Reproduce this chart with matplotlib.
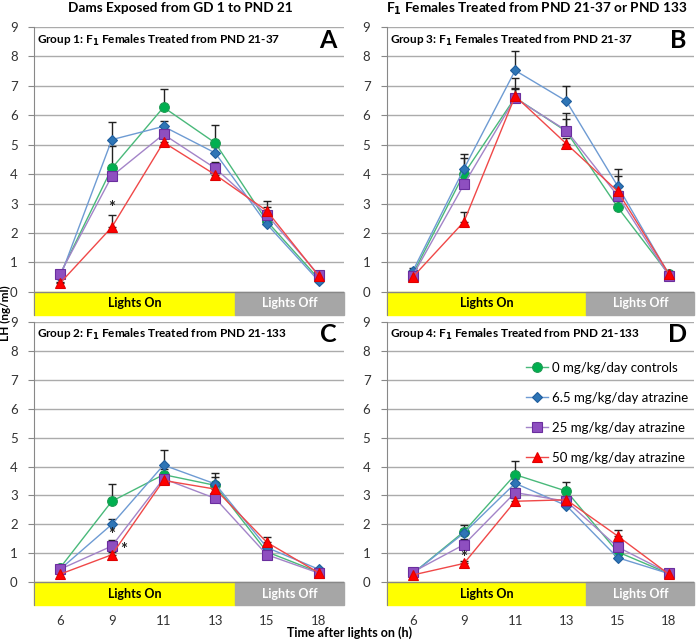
import matplotlib
matplotlib.use('Agg')
import matplotlib.pyplot as plt
from matplotlib.patches import Rectangle
import numpy as np

plt.rcParams['font.family'] = ['Lato', 'DejaVu Sans']

hours = ['6', '9', '11', '13', '15', '18']
series_names = ['0 mg/kg/day controls', '6.5 mg/kg/day atrazine',
                '25 mg/kg/day atrazine', '50 mg/kg/day atrazine']

# mean LH values per panel (green, blue, purple, red)
lh_A = [[0.60, 4.20, 6.27, 5.06, 2.40, 0.45],
        [0.50, 5.17, 5.62, 4.72, 2.30, 0.38],
        [0.62, 3.93, 5.35, 4.20, 2.62, 0.58],
        [0.30, 2.20, 5.08, 3.98, 2.75, 0.55]]
lh_B = [[0.60, 4.01, 6.60, 5.45, 2.88, 0.60],
        [0.70, 4.18, 7.52, 6.48, 3.60, 0.60],
        [0.55, 3.65, 6.58, 5.48, 3.27, 0.55],
        [0.50, 2.38, 6.65, 5.03, 3.42, 0.62]]
lh_C = [[0.50, 2.80, 3.72, 3.35, 1.05, 0.35],
        [0.45, 2.00, 4.05, 3.40, 1.20, 0.45],
        [0.45, 1.25, 3.58, 2.90, 0.95, 0.32],
        [0.28, 0.95, 3.52, 3.22, 1.38, 0.33]]
lh_D = [[0.30, 1.75, 3.72, 3.15, 1.05, 0.30],
        [0.30, 1.70, 3.42, 2.65, 0.85, 0.30],
        [0.35, 1.30, 3.10, 2.80, 1.22, 0.32],
        [0.25, 0.65, 2.80, 2.85, 1.60, 0.28]]

# upper error bars (SEM)
err_A = [[0.10, 0.75, 0.62, 0.62, 0.15, 0.10],
         [0.10, 0.60, 0.20, 0.20, 0.10, 0.05],
         [0.10, 0.15, 0.15, 0.20, 0.28, 0.05],
         [0.05, 0.42, 0.15, 0.10, 0.35, 0.05]]
err_B = [[0.10, 0.55, 0.65, 0.42, 0.20, 0.05],
         [0.10, 0.52, 0.66, 0.52, 0.58, 0.05],
         [0.10, 0.20, 0.30, 0.60, 0.30, 0.05],
         [0.05, 0.33, 0.28, 0.20, 0.50, 0.05]]
err_C = [[0.10, 0.60, 0.20, 0.30, 0.10, 0.05],
         [0.10, 0.20, 0.52, 0.38, 0.10, 0.05],
         [0.10, 0.20, 0.10, 0.10, 0.10, 0.05],
         [0.05, 0.10, 0.10, 0.10, 0.17, 0.05]]
err_D = [[0.05, 0.22, 0.46, 0.30, 0.15, 0.05],
         [0.05, 0.15, 0.15, 0.10, 0.10, 0.05],
         [0.05, 0.20, 0.15, 0.10, 0.15, 0.05],
         [0.05, 0.10, 0.10, 0.10, 0.22, 0.05]]

# significance stars: (x index, y)
stars_A = [(1, 2.85)]
stars_B = []
stars_C = [(1, 1.62), (1.22, 1.12)]
stars_D = [(1, 0.85)]

group_titles = ['Group 1: F$_\\mathbf{1}$ Females Treated from PND 21-37',
                'Group 3: F$_\\mathbf{1}$ Females Treated from PND 21-37',
                'Group 2: F$_\\mathbf{1}$ Females Treated from PND 21-133',
                'Group 4: F$_\\mathbf{1}$ Females Treated from PND 21-133']
letters = ['A', 'B', 'C', 'D']

mk_face = ['#00B050', '#2E75B6', '#8E4FC0', '#FF0000']
mk_edge = ['#1E9A52', '#1F5E9E', '#6A2E9E', '#E00000']
line_col = ['#49B97A', '#6E9BD3', '#A384C8', '#F04848']
markers = ['o', 'D', 's', '^']
msizes = [7, 5.5, 7, 7]

fig = plt.figure(figsize=(7, 6.4), dpi=100)
boxes = [[0.049, 0.508, 0.443, 0.450],
         [0.553, 0.508, 0.439, 0.450],
         [0.049, 0.055, 0.443, 0.442],
         [0.553, 0.055, 0.439, 0.442]]
all_lh = [lh_A, lh_B, lh_C, lh_D]
all_err = [err_A, err_B, err_C, err_D]
all_stars = [stars_A, stars_B, stars_C, stars_D]

x = np.arange(len(hours))
bar_h = 0.78
for p in range(4):
    ax = fig.add_axes(boxes[p])
    ax.set_xlim(-0.5, 5.5)
    ax.set_ylim(-bar_h, 9)
    for g in range(1, 10):
        ax.axhline(g, color='#ABABAB', lw=1.0, zorder=0)
    for s in range(4):
        ax.errorbar(x, all_lh[p][s], yerr=[np.zeros(6), all_err[p][s]],
                    fmt='none', ecolor='#222222', elinewidth=1.0,
                    capsize=3, capthick=1.0, zorder=2)
    for s in range(4):
        ax.plot(x, all_lh[p][s], color=line_col[s], lw=1.0,
                marker=markers[s], ms=msizes[s], mfc=mk_face[s],
                mec=mk_edge[s], mew=0.8, label=series_names[s], zorder=3)
    for sx, sy in all_stars[p]:
        ax.text(sx, sy, '*', ha='center', va='center', fontsize=12,
                fontweight='bold', color='#222222')
    # light / dark bars
    ax.add_patch(Rectangle((-0.5, -bar_h), 3.89, bar_h, color='#FFFF00',
                           zorder=1, clip_on=False))
    ax.add_patch(Rectangle((3.39, -bar_h), 2.11, bar_h, color='#A6A6A6',
                           zorder=1, clip_on=False))
    ax.text(1.445, -bar_h / 2, 'Lights On', ha='center', va='center',
            fontsize=9, fontweight='bold', color='black')
    ax.text(4.445, -bar_h / 2, 'Lights Off', ha='center', va='center',
            fontsize=9, fontweight='bold', color='white')
    ax.axhline(0, color='#888888', lw=1.0, zorder=1)
    ax.text(-0.44, 8.55, group_titles[p], ha='left', va='center',
            fontsize=8.5, fontweight='bold')
    ax.text(5.35, 8.55, letters[p], ha='right', va='center', fontsize=18,
            fontweight='bold')
    ax.set_yticks(range(0, 10))
    ax.tick_params(axis='y', length=4, color='#888888', labelsize=9.5,
                   labelcolor='#333333', pad=8)
    ax.set_xticks(x)
    if p >= 2:
        ax.set_xticklabels(hours)
        ax.tick_params(axis='x', length=0, labelsize=9.5,
                       labelcolor='#333333', pad=7)
    else:
        ax.set_xticklabels([])
        ax.tick_params(axis='x', length=0)
    for sp in ['top', 'right', 'bottom']:
        ax.spines[sp].set_visible(False)
    ax.spines['left'].set_color('#888888')
    if p == 3:
        ax.legend(loc='upper right', bbox_to_anchor=(1.02, 0.9),
                  frameon=False, fontsize=9.5, labelspacing=1.35,
                  handlelength=1.7, handletextpad=0.3)

fig.text(0.258, 0.987, 'Dams Exposed from GD 1 to PND 21', ha='center',
         va='center', fontsize=9.8, fontweight='bold')
fig.text(0.766, 0.987, 'F$_\\mathbf{1}$ Females Treated from PND 21-37 or PND 133',
         ha='center', va='center', fontsize=9.8, fontweight='bold')
fig.text(0.008, 0.51, 'LH (ng/ml)', rotation=90, ha='center', va='center',
         fontsize=8.5, fontweight='bold')
fig.text(0.5, 0.011, 'Time after lights on (h)', ha='center', va='center',
         fontsize=9, fontweight='bold')

plt.savefig('out.png', dpi=100)
